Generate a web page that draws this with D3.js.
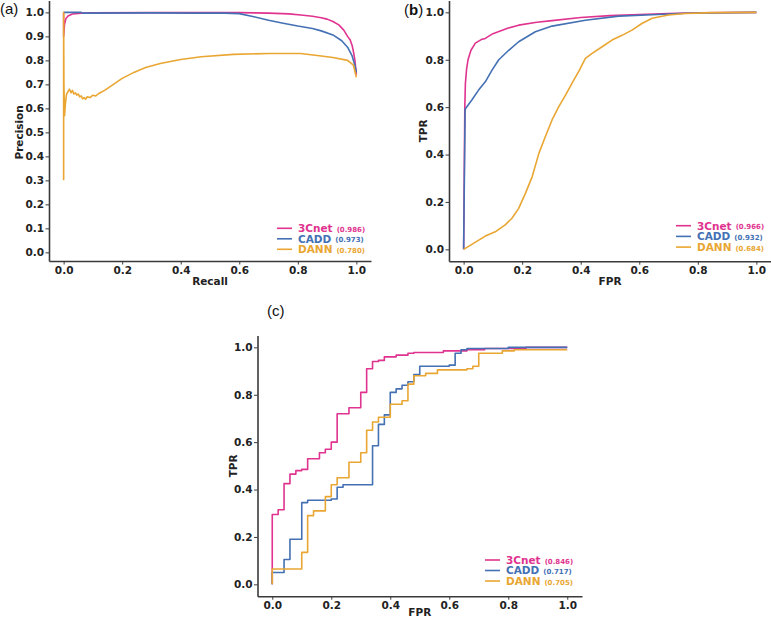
<!DOCTYPE html>
<html>
<head>
<meta charset="utf-8">
<script src="https://cdn.jsdelivr.net/npm/d3@7"></script>
<style>
  body { margin: 0; background: #fff; }
  svg { display: block; }
</style>
</head>
<body>
<svg id="chart" width="771" height="618"></svg>
<script>
// ---------------- DATA ----------------
const seriesNames = ["3Cnet", "CADD", "DANN"];
const seriesColors = ["#e0338f", "#4470b4", "#e9a632"];

// Panel (a): precision-recall curves [recall, precision]
const prAUC = ["0.986", "0.973", "0.780"];
const pr3Cnet = [[0,1.0],[0,0.90],[0.003,0.95],[0.008,0.975],[0.015,0.985],[0.03,0.993],[0.06,0.997],[0.1,0.998],[0.3,0.999],[0.6,0.999],[0.7,0.997],[0.77,0.994],[0.81,0.989],[0.85,0.984],[0.88,0.978],[0.9,0.972],[0.92,0.962],[0.94,0.948],[0.957,0.926],[0.97,0.90],[0.979,0.885],[0.986,0.86],[0.991,0.83],[0.995,0.80],[1.0,0.74]];
const prCADD = [[0,1.0],[0.06,1.0],[0.065,0.997],[0.3,0.998],[0.45,0.997],[0.55,0.997],[0.6,0.995],[0.65,0.982],[0.7,0.967],[0.75,0.955],[0.8,0.943],[0.85,0.933],[0.88,0.923],[0.92,0.906],[0.95,0.882],[0.97,0.855],[0.985,0.82],[0.995,0.78],[1.0,0.75]];
const prDANN = [[0,0.30],[0,1.0],[0.001,0.70],[0.003,0.57],[0.006,0.62],[0.01,0.66],[0.015,0.67],[0.02,0.68],[0.025,0.665],[0.03,0.675],[0.035,0.66],[0.04,0.665],[0.045,0.655],[0.05,0.66],[0.055,0.648],[0.06,0.652],[0.065,0.64],[0.07,0.645],[0.075,0.638],[0.08,0.648],[0.09,0.645],[0.1,0.655],[0.11,0.652],[0.12,0.662],[0.14,0.675],[0.17,0.70],[0.2,0.725],[0.24,0.75],[0.28,0.77],[0.33,0.787],[0.4,0.804],[0.47,0.815],[0.58,0.825],[0.7,0.829],[0.81,0.829],[0.88,0.818],[0.92,0.812],[0.97,0.80],[0.99,0.78],[1.0,0.73]];

// Panel (b): ROC curves [FPR, TPR]
const rocBAUC = ["0.966", "0.932", "0.684"];
const rocB3Cnet = [[0,0],[0.002,0.3],[0.004,0.6],[0.006,0.7],[0.01,0.76],[0.015,0.8],[0.025,0.84],[0.04,0.87],[0.06,0.885],[0.074,0.89],[0.1,0.91],[0.15,0.933],[0.188,0.946],[0.25,0.958],[0.302,0.965],[0.4,0.978],[0.5,0.986],[0.6,0.991],[0.7,0.995],[0.8,0.998],[1.0,1.0]];
const rocBCADD = [[0,0],[0.005,0.59],[0.011,0.602],[0.028,0.63],[0.051,0.672],[0.074,0.707],[0.097,0.756],[0.12,0.80],[0.154,0.84],[0.188,0.876],[0.245,0.918],[0.302,0.942],[0.416,0.967],[0.53,0.984],[0.644,0.99],[0.758,0.996],[1.0,1.0]];
const rocBDANN = [[0,0],[0.028,0.021],[0.074,0.056],[0.108,0.074],[0.142,0.103],[0.165,0.131],[0.188,0.173],[0.211,0.236],[0.234,0.306],[0.257,0.405],[0.279,0.475],[0.302,0.546],[0.325,0.602],[0.348,0.651],[0.37,0.70],[0.395,0.755],[0.416,0.806],[0.439,0.827],[0.473,0.855],[0.507,0.883],[0.541,0.903],[0.575,0.925],[0.609,0.953],[0.644,0.975],[0.70,0.989],[0.758,0.995],[0.85,0.999],[1.0,1.0]];

// Panel (c): step ROC curves [FPR, TPR after step]
const rocCAUC = ["0.846", "0.717", "0.705"];
const rocC3Cnet = [[0,0],[0,0.295],[0.02,0.315],[0.04,0.425],[0.06,0.465],[0.08,0.48],[0.10,0.485],[0.12,0.53],[0.16,0.555],[0.18,0.57],[0.20,0.60],[0.22,0.72],[0.26,0.745],[0.30,0.81],[0.32,0.91],[0.34,0.94],[0.36,0.945],[0.38,0.96],[0.42,0.967],[0.46,0.975],[0.48,0.978],[0.58,0.985],[0.66,0.99],[0.72,0.995],[0.86,1.0],[1.0,1.0]];
const rocCCADD = [[0,0],[0,0.05],[0.04,0.105],[0.06,0.19],[0.10,0.345],[0.12,0.355],[0.20,0.36],[0.22,0.41],[0.24,0.42],[0.34,0.585],[0.36,0.675],[0.38,0.715],[0.40,0.81],[0.42,0.825],[0.44,0.84],[0.46,0.855],[0.48,0.885],[0.50,0.92],[0.60,0.925],[0.62,0.975],[0.64,0.99],[0.66,0.995],[0.80,1.0],[1.0,1.0]];
const rocCDANN = [[0,0],[0,0.065],[0.10,0.135],[0.12,0.29],[0.14,0.31],[0.18,0.37],[0.20,0.42],[0.22,0.45],[0.26,0.515],[0.30,0.555],[0.32,0.65],[0.34,0.685],[0.36,0.705],[0.40,0.76],[0.44,0.775],[0.46,0.845],[0.48,0.88],[0.52,0.89],[0.56,0.905],[0.66,0.91],[0.68,0.92],[0.70,0.975],[0.78,0.985],[0.82,0.99],[1.0,0.99]];

const xTicks = [0, 0.2, 0.4, 0.6, 0.8, 1.0];
const yTicksPR = [0, 0.1, 0.2, 0.3, 0.4, 0.5, 0.6, 0.7, 0.8, 0.9, 1.0];
const yTicksROC = [0, 0.2, 0.4, 0.6, 0.8, 1.0];

// ---------------- DRAW ----------------
const svg = d3.select("#chart");
const FONT = "DejaVu Sans, sans-serif";

function panel(cfg) {
  const x = d3.scaleLinear().domain(cfg.xDom).range(cfg.xRange);
  const y = d3.scaleLinear().domain(cfg.yDom).range(cfg.yRange);
  const g = svg.append("g");

  const xAxis = d3.axisBottom(x).tickValues(xTicks).tickFormat(d3.format(".1f")).tickSize(3.5).tickSizeOuter(0).tickPadding(2);
  const yAxis = d3.axisLeft(y).tickValues(cfg.yTicks).tickFormat(d3.format(".1f")).tickSize(3.5).tickSizeOuter(0).tickPadding(1.5);
  const gx = g.append("g").attr("transform", `translate(0,${cfg.yRange[0]})`).call(xAxis);
  const gy = g.append("g").attr("transform", `translate(${cfg.xRange[0]},0)`).call(yAxis);
  [gx, gy].forEach(a => {
    a.attr("font-family", FONT).attr("font-size", 10.5);
    a.select(".domain").attr("stroke", "#3a3a3a").attr("stroke-width", 1.6);
    a.selectAll(".tick line").attr("stroke", "#3a3a3a").attr("stroke-width", 1);
    a.selectAll(".tick text").attr("fill", "#222").attr("font-weight", "bold");
  });

  g.append("text").attr("x", (x(0) + x(1)) / 2).attr("y", cfg.yRange[0] + cfg.xLabelDy)
    .attr("text-anchor", "middle").attr("font-family", FONT).attr("font-size", 10.5)
    .attr("font-weight", "bold").attr("fill", "#222").text(cfg.xLabel);
  g.append("text").attr("transform", `translate(${cfg.yLabelX},${(y(0) + y(1)) / 2}) rotate(-90)`)
    .attr("text-anchor", "middle").attr("font-family", FONT).attr("font-size", 10.5)
    .attr("font-weight", "bold").attr("fill", "#222").text(cfg.yLabel);

  const line = d3.line().x(d => x(d[0])).y(d => y(d[1])).curve(cfg.curve);
  cfg.series.forEach((s, i) => {
    g.append("path").datum(s).attr("d", line).attr("fill", "none")
      .attr("stroke", seriesColors[i]).attr("stroke-width", 1.6).attr("stroke-linejoin", "round");
  });

  const lg = g.append("g").attr("transform", `translate(${cfg.legendX},${cfg.legendY})`);
  seriesNames.forEach((n, i) => {
    const row = lg.append("g").attr("transform", `translate(0,${i * cfg.legendStep})`);
    row.append("line").attr("x1", 0).attr("x2", 15).attr("y1", 0).attr("y2", 0)
      .attr("stroke", seriesColors[i]).attr("stroke-width", 1.6);
    const t = row.append("text").attr("x", 21).attr("y", 3.8).attr("font-family", FONT)
      .attr("font-size", 10.5).attr("font-weight", "bold").attr("fill", seriesColors[i]).text(n);
    const w = t.node().getComputedTextLength();
    row.append("text").attr("x", 21 + w + 4).attr("y", 3.6).attr("font-family", FONT)
      .attr("font-size", 7).attr("font-weight", "bold").attr("fill", seriesColors[i])
      .text("(" + cfg.auc[i] + ")");
  });

  const pl = svg.append("text").attr("x", cfg.tagX).attr("y", cfg.tagY)
    .attr("font-family", "Liberation Sans, Arial, sans-serif").attr("font-size", 15).attr("fill", "#111");
  pl.append("tspan").text("(");
  pl.append("tspan").attr("font-weight", cfg.tagBold ? "bold" : "normal").text(cfg.tag);
  pl.append("tspan").text(")");
}

panel({
  xDom: [-0.05, 1.05], xRange: [49, 371],
  yDom: [-0.036, 1.05], yRange: [261, 0.4],
  yTicks: yTicksPR, xLabel: "Recall", yLabel: "Precision", yLabelX: 23, xLabelDy: 24,
  curve: d3.curveLinear, series: [pr3Cnet, prCADD, prDANN], auc: prAUC,
  legendX: 277, legendY: 228.3, legendStep: 10.5,
  tag: "a", tagX: 0, tagY: 14, tagBold: false
});

panel({
  xDom: [-0.05, 1.05], xRange: [449, 771],
  yDom: [-0.05, 1.05], yRange: [261.2, 0.5],
  yTicks: yTicksROC, xLabel: "FPR", yLabel: "TPR", yLabelX: 427, xLabelDy: 24,
  curve: d3.curveLinear, series: [rocB3Cnet, rocBCADD, rocBDANN], auc: rocBAUC,
  legendX: 676, legendY: 225.7, legendStep: 10.7,
  tag: "b", tagX: 404, tagY: 15, tagBold: true
});

panel({
  xDom: [-0.05, 1.05], xRange: [257.5, 582],
  yDom: [-0.05, 1.05], yRange: [596.2, 335.5],
  yTicks: yTicksROC, xLabel: "FPR", yLabel: "TPR", yLabelX: 237, xLabelDy: 19.5,
  curve: d3.curveStepAfter, series: [rocC3Cnet, rocCCADD, rocCDANN], auc: rocCAUC,
  legendX: 485, legendY: 560, legendStep: 10.5,
  tag: "c", tagX: 267, tagY: 316, tagBold: false
});
</script>
</body>
</html>
